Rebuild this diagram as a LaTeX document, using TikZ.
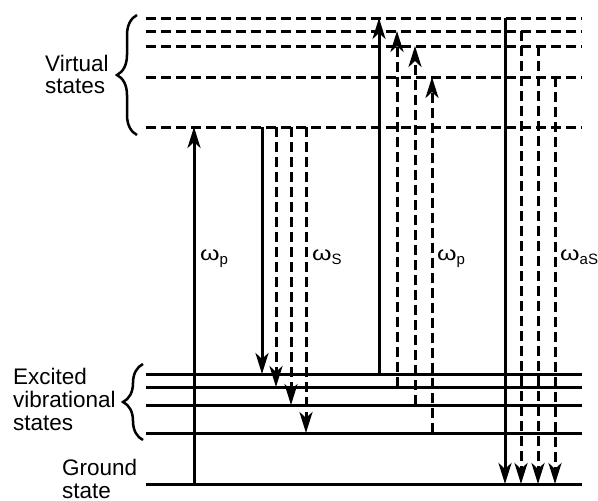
\documentclass[tikz,border=0pt]{standalone}
\usepackage{fontspec}
\setmainfont{Liberation Sans}
\usetikzlibrary{arrows.meta,decorations.pathreplacing}
\tikzset{
  lvl/.style={line width=3pt},
  vlvl/.style={line width=3pt, dash pattern=on 10pt off 5pt},
  up/.style={line width=3pt, -{Stealth[length=21pt,width=13pt,inset=6pt]}},
  updash/.style={up, dash pattern=on 10pt off 5pt},
  lab/.style={inner sep=0pt, anchor=base west, font=\fontsize{22.5}{22.5}\selectfont},
  wlab/.style={inner sep=0pt, anchor=base west, font=\fontsize{20}{20}\selectfont},
  brc/.style={line width=2.5pt, decorate, decoration={brace, amplitude=20pt}},
}
\newcommand{\omg}{\scalebox{1.25}[1]{ω}}
\newcommand{\subx}[1]{\raisebox{-4pt}{\fontsize{15}{15}\selectfont #1}}
\begin{document}
\begin{tikzpicture}[x=1pt,y=-1pt]
\useasboundingbox (0,0) rectangle (598,501);
% level end points
\foreach \n/\y in {v1/18,v2/31,v3/46,v4/77,v5/127}{
  \coordinate (\n L) at (146,\y);
  \coordinate (\n R) at (582,\y);
}
\foreach \n/\y in {e1/374,e2/387,e3/405,e4/433,g/484}{
  \coordinate (\n L) at (146,\y);
  \coordinate (\n R) at (582,\y);
}
% virtual levels
\foreach \n in {v1,v2,v3,v4,v5}{ \draw[vlvl] (\n L) -- (\n R); }
% real levels
\foreach \n in {e1,e2,e3,e4,g}{ \draw[lvl] (\n L) -- (\n R); }

% pump (Stokes)
\coordinate (p0a) at (194,484); \coordinate (p0b) at (194,127);
\draw[up] (p0a) -- (p0b);
% Stokes emission
\coordinate (s1a) at (262,127); \coordinate (s1b) at (262,374);
\coordinate (s2a) at (276,127); \coordinate (s2b) at (276,387);
\coordinate (s3a) at (291,127); \coordinate (s3b) at (291,405);
\coordinate (s4a) at (306,127); \coordinate (s4b) at (306,433);
\draw[up] (s1a) -- (s1b);
\draw[updash] (s2a) -- (s2b);
\draw[updash] (s3a) -- (s3b);
\draw[updash] (s4a) -- (s4b);
% anti-Stokes pump
\coordinate (a1a) at (379,374); \coordinate (a1b) at (379,18);
\coordinate (a2a) at (397,387); \coordinate (a2b) at (397,31);
\coordinate (a3a) at (415,405); \coordinate (a3b) at (415,46);
\coordinate (a4a) at (432,433); \coordinate (a4b) at (432,77);
\draw[up] (a1a) -- (a1b);
\draw[updash] (a2a) -- (a2b);
\draw[updash] (a3a) -- (a3b);
\draw[updash] (a4a) -- (a4b);
% anti-Stokes emission
\coordinate (d1a) at (505,18); \coordinate (d1b) at (505,484);
\coordinate (d2a) at (521,31); \coordinate (d2b) at (521,484);
\coordinate (d3a) at (538,46); \coordinate (d3b) at (538,484);
\coordinate (d4a) at (555,77); \coordinate (d4b) at (555,484);
\draw[up] (d1a) -- (d1b);
\draw[updash] (d2a) -- (d2b);
\draw[updash] (d3a) -- (d3b);
\draw[updash] (d4a) -- (d4b);

% frequency labels
\node[wlab] (wp1) at (200,260) {\omg\subx{p}};
\node[wlab] (ws) at (312,260) {\omg\subx{S}};
\node[wlab] (wp2) at (437,260) {\omg\subx{p}};
\node[wlab] (was) at (560,260) {\omg\subx{aS}};

% braces
\coordinate (bv1) at (137,135); \coordinate (bv2) at (137,15);
\draw[brc] (bv1) -- (bv2);
\coordinate (be1) at (143,440); \coordinate (be2) at (143,364);
\draw[brc] (be1) -- (be2);

% state labels
\node[lab] (vs1) at (45,71) {Virtual};
\node[lab] (vs2) at (45,93) {states};
\node[lab] (ex1) at (13,384) {Excited};
\node[lab] (ex2) at (13,407) {vibrational};
\node[lab] (ex3) at (13,430) {states};
\node[lab] (gs1) at (62,475) {Ground};
\node[lab] (gs2) at (62,498) {state};
\end{tikzpicture}
\end{document}
